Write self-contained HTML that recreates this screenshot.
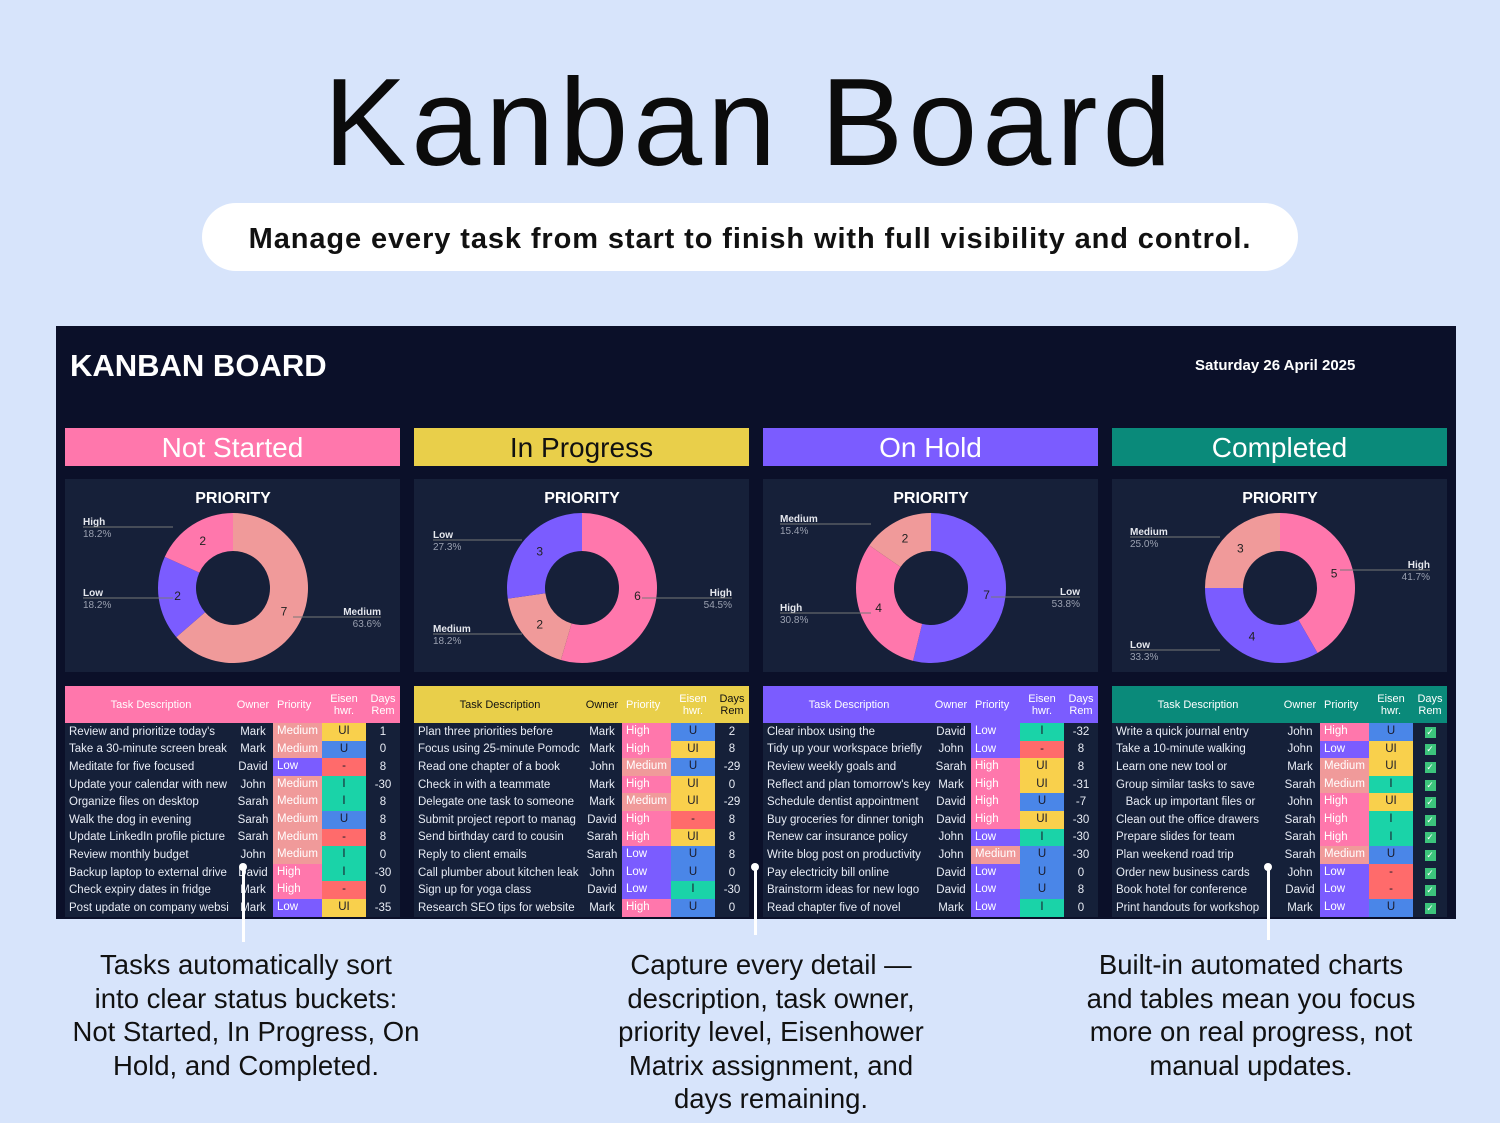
<!DOCTYPE html>
<html><head><meta charset="utf-8">
<style>
*{margin:0;padding:0;box-sizing:border-box}
body{width:1500px;height:1123px;background:#d7e4fb;font-family:"Liberation Sans",sans-serif;position:relative;overflow:hidden}
.abs{position:absolute}
h1{position:absolute;left:0;width:1500px;top:52px;text-align:center;font-size:124px;font-weight:400;color:#0b0b0b;letter-spacing:5px}
.pill{left:202px;top:203px;width:1096px;height:68px;background:#fff;border-radius:34px;text-align:center;line-height:72px;font-size:29px;font-weight:700;color:#111;letter-spacing:0.9px}
.board{left:56px;top:326px;width:1400px;height:593px;background:#0b1029}
.bt{left:70px;top:348px;color:#fff;font-weight:700;font-size:31px}
.date{left:1195px;top:357px;color:#fff;font-weight:700;font-size:15px}
.hdr{height:38px;top:428px;width:335px;text-align:center;font-size:28px;line-height:40px;color:#fff}
.panel{top:479px;width:335px;height:193px;background:#162039}
.tbl{top:686px;width:335px;font-size:11.5px;color:#e8ecf5}
.th{height:37px;display:flex;align-items:center;font-size:11px;color:#fff}
.row{height:17.6px;display:flex;align-items:center;background:#152039}
.c1{width:168px;padding-left:4px;white-space:nowrap;overflow:hidden}
.c2{width:40px;text-align:center}
.c3{width:49px;padding-left:4px;height:100%;line-height:17.6px}
.c4{width:44px;text-align:center;height:100%;line-height:17.6px;color:#1a1a2a}
.c5{width:34px;text-align:center}
.th .c3,.th .c4{height:auto;line-height:12px;color:#fff}
.th .c1{text-align:center}
.chk{display:inline-block;width:11px;height:11px;background:#3cc47c;color:#fff;font-size:9px;line-height:11px}
.note{top:948px;width:480px;text-align:center;font-size:27.5px;line-height:33.6px;color:#111}
.vl{width:3px;background:#fff}
</style></head><body>
<h1>Kanban Board</h1>
<div class="abs pill">Manage every task from start to finish with full visibility and control.</div>
<div class="abs board"></div>
<div class="abs bt">KANBAN BOARD</div>
<div class="abs date">Saturday 26 April 2025</div>
<div id="root"></div>
<div class="abs note" style="left:6px">Tasks automatically sort<br>into clear status buckets:<br>Not Started, In Progress, On<br>Hold, and Completed.</div>
<div class="abs note" style="left:531px">Capture every detail —<br>description, task owner,<br>priority level, Eisenhower<br>Matrix assignment, and<br>days remaining.</div>
<div class="abs note" style="left:1011px">Built-in automated charts<br>and tables mean you focus<br>more on real progress, not<br>manual updates.</div>
<script>
const P={High:'#ff77ac',Medium:'#f09a9a',Low:'#7b5cff'};
const E={UI:'#f9d04c',U:'#4a86e8',I:'#1ad3a8','-':'#ff6b6b'};
const cols=[
{x:65,name:'Not Started',bg:'#ff77ac',fg:'#fff',
 seg:[['Medium',7],['Low',2],['High',2]],
 lab:[['High','18.2%',83,521,0],['Low','18.2%',83,592,0],['Medium','63.6%',381,611,1]],
 rows:[['Review and prioritize today\'s','Mark','Medium','UI','1'],['Take a 30-minute screen break','Mark','Medium','U','0'],['Meditate for five focused','David','Low','-','8'],['Update your calendar with new','John','Medium','I','-30'],['Organize files on desktop','Sarah','Medium','I','8'],['Walk the dog in evening','Sarah','Medium','U','8'],['Update LinkedIn profile picture','Sarah','Medium','-','8'],['Review monthly budget','John','Medium','I','0'],['Backup laptop to external drive','David','High','I','-30'],['Check expiry dates in fridge','Mark','High','-','0'],['Post update on company websi','Mark','Low','UI','-35']]},
{x:414,name:'In Progress',bg:'#e9cf4a',fg:'#111',
 seg:[['High',6],['Medium',2],['Low',3]],
 lab:[['Low','27.3%',433,534,0],['Medium','18.2%',433,628,0],['High','54.5%',732,592,1]],
 rows:[['Plan three priorities before','Mark','High','U','2'],['Focus using 25-minute Pomodc','Mark','High','UI','8'],['Read one chapter of a book','John','Medium','U','-29'],['Check in with a teammate','Mark','High','UI','0'],['Delegate one task to someone','Mark','Medium','UI','-29'],['Submit project report to manag','David','High','-','8'],['Send birthday card to cousin','Sarah','High','UI','8'],['Reply to client emails','Sarah','Low','U','8'],['Call plumber about kitchen leak','John','Low','U','0'],['Sign up for yoga class','David','Low','I','-30'],['Research SEO tips for website','Mark','High','U','0']]},
{x:763,name:'On Hold',bg:'#7b5cff',fg:'#fff',
 seg:[['Low',7],['High',4],['Medium',2]],
 lab:[['Medium','15.4%',780,518,0],['High','30.8%',780,607,0],['Low','53.8%',1080,591,1]],
 rows:[['Clear inbox using the','David','Low','I','-32'],['Tidy up your workspace briefly','John','Low','-','8'],['Review weekly goals and','Sarah','High','UI','8'],['Reflect and plan tomorrow\'s key','Mark','High','UI','-31'],['Schedule dentist appointment','David','High','U','-7'],['Buy groceries for dinner tonigh','David','High','UI','-30'],['Renew car insurance policy','John','Low','I','-30'],['Write blog post on productivity','John','Medium','U','-30'],['Pay electricity bill online','David','Low','U','0'],['Brainstorm ideas for new logo','David','Low','U','8'],['Read chapter five of novel','Mark','Low','I','0']]},
{x:1112,name:'Completed',bg:'#0a8a7a',fg:'#fff',
 seg:[['High',5],['Low',4],['Medium',3]],
 lab:[['Medium','25.0%',1130,531,0],['Low','33.3%',1130,644,0],['High','41.7%',1430,564,1]],
 rows:[['Write a quick journal entry','John','High','U','✓'],['Take a 10-minute walking','John','Low','UI','✓'],['Learn one new tool or','Mark','Medium','UI','✓'],['Group similar tasks to save','Sarah','Medium','I','✓'],['   Back up important files or','John','High','UI','✓'],['Clean out the office drawers','Sarah','High','I','✓'],['Prepare slides for team','Sarah','High','I','✓'],['Plan weekend road trip','Sarah','Medium','U','✓'],['Order new business cards','John','Low','-','✓'],['Book hotel for conference','David','Low','-','✓'],['Print handouts for workshop','Mark','Low','U','✓']]}
];
let h='';
cols.forEach(c=>{
 h+=`<div class="abs hdr" style="left:${c.x}px;background:${c.bg};color:${c.fg}">${c.name}</div>`;
 h+=`<div class="abs panel" style="left:${c.x}px"></div>`;
 const cx=c.x+168,cy=588,R=75,r=37;
 let tot=c.seg.reduce((a,s)=>a+s[1],0),a0=0,svg='';
 c.seg.forEach(s=>{
  const a1=a0+s[1]/tot*Math.PI*2;
  const p=(rr,a)=>[cx+rr*Math.sin(a),cy-rr*Math.cos(a)];
  const L=(a1-a0)>Math.PI?1:0;
  const [x0,y0]=p(R,a0),[x1,y1]=p(R,a1),[x2,y2]=p(r,a1),[x3,y3]=p(r,a0);
  svg+=`<path d="M${x0},${y0}A${R},${R} 0 ${L} 1 ${x1},${y1}L${x2},${y2}A${r},${r} 0 ${L} 0 ${x3},${y3}Z" fill="${P[s[0]]}"/>`;
  const [tx,ty]=p(56,(a0+a1)/2);
  svg+=`<text x="${tx}" y="${ty+4}" font-size="12" text-anchor="middle" fill="#222">${s[1]}</text>`;
  a0=a1;
 });
 c.lab.forEach(l=>{
  const anc=l[4]?'end':'start';
  svg+=`<text x="${l[2]}" y="${l[3]+4}" font-size="10" font-weight="bold" fill="#e6e8ee" text-anchor="${anc}">${l[0]}</text><text x="${l[2]}" y="${l[3]+16}" font-size="10" fill="#9aa0b0" text-anchor="${anc}">${l[1]}</text>`;
  const ex=l[4]?cx+60:cx-60;
  svg+=`<line x1="${l[2]}" y1="${l[3]+6}" x2="${ex}" y2="${l[3]+6}" stroke="#777" stroke-width="1"/>`;
 });
 svg+=`<text x="${cx}" y="503" font-size="16" font-weight="bold" fill="#fff" text-anchor="middle">PRIORITY</text>`;
 h+=`<svg class="abs" style="left:0;top:0" width="1500" height="1123">${svg}</svg>`;
 let t=`<div class="th" style="background:${c.bg};color:${c.fg}"><div class="c1">Task Description</div><div class="c2">Owner</div><div class="c3">Priority</div><div class="c4">Eisen<br>hwr.</div><div class="c5" style="line-height:12px">Days<br>Rem</div></div>`;
 c.rows.forEach(r=>{
  const d=r[4]=='✓'?'<span class="chk">✓</span>':r[4];
  t+=`<div class="row"><div class="c1" style="white-space:pre">${r[0]}</div><div class="c2">${r[1]}</div><div class="c3" style="background:${P[r[2]]};color:#fff">${r[2]}</div><div class="c4" style="background:${E[r[3]]}">${r[3]}</div><div class="c5">${d}</div></div>`;
 });
 h+=`<div class="abs tbl" style="left:${c.x}px">${t}</div>`;
});
[[243,866,942],[755,866,935],[1268,866,940]].forEach(v=>{
 h+=`<div class="abs vl" style="left:${v[0]-1}px;top:${v[1]}px;height:${v[2]-v[1]}px"></div><div class="abs" style="left:${v[0]-4}px;top:${v[1]-3}px;width:8px;height:8px;border-radius:4px;background:#fff"></div>`;
});
document.getElementById('root').innerHTML=h;
</script>
</body></html>
